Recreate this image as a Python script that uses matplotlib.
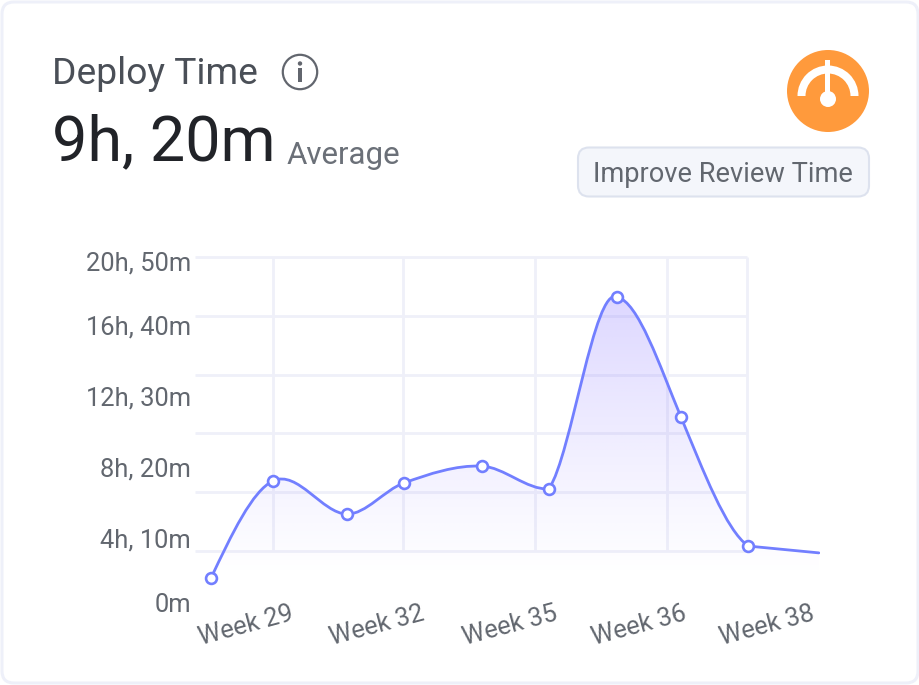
import numpy as np
import matplotlib
matplotlib.use("Agg")
import matplotlib.pyplot as plt
from matplotlib.patches import FancyBboxPatch, Circle, Wedge, PathPatch, Rectangle
from matplotlib.path import Path

plt.rcParams['font.family'] = ['Roboto', 'DejaVu Sans']

# ---- data (minutes over a week-position scale) ----
sample_x = [0.00, 0.94, 2.06, 2.92, 4.10, 5.12, 6.15, 7.12, 8.14, 9.21]
minutes = [-115, 298, 157, 289, 361, 264, 1080, 570, 21, -8]
marked = 9  # the last sample carries no marker
week_labels = ['Week 29', 'Week 32', 'Week 35', 'Week 36', 'Week 38']
week_label_x = [0.53, 2.51, 4.53, 6.48, 8.43]
week_grid_x = [0.94, 2.91, 4.91, 6.91, 8.12]
value_labels = ['0m', '4h, 10m', '8h, 20m', '12h, 30m', '16h, 40m', '20h, 50m']
value_label_y = [-217, 55, 357, 658, 960, 1233]
value_grid = [0, 250, 500, 750, 1000, 1250]

LINE = '#727FFF'
GRID = '#EFF0F9'
W, H = 920, 685

fig = plt.figure(figsize=(W / 100, H / 100), dpi=100, facecolor='white')

# ---- card furniture, in pixel coordinates ----
bg = fig.add_axes([0, 0, 1, 1], zorder=0)
bg.set_xlim(0, W); bg.set_ylim(H, 0); bg.axis('off')
bg.add_patch(FancyBboxPatch((2, 2), W - 4, H - 4, boxstyle='round,pad=0,rounding_size=12',
                            fc='white', ec='#EEF0F9', lw=2.2))
bg.text(52, 84, 'Deploy Time', fontsize=26.8, color='#4A4F57', va='baseline')
bg.text(52, 160, '9h, 20m', fontsize=45.3, color='#212328', va='baseline')
bg.text(287, 164, 'Average', fontsize=22.5, color='#6B7078', va='baseline')

bg.add_patch(Circle((300, 72), 17.2, fc='none', ec='#62666E', lw=1.6))
bg.add_patch(Circle((300, 63.5), 2.2, fc='#62666E', ec='none'))
bg.add_patch(Rectangle((298, 68), 4, 14, fc='#62666E', ec='none'))

bg.add_patch(Circle((828, 91), 41, fc='#FF9A3C', ec='none'))
bg.add_patch(Wedge((828, 96), 30.5, 180, 360, width=8, fc='white', ec='none'))
bg.add_patch(Rectangle((825.5, 60), 5, 38, fc='white', ec='none'))
bg.add_patch(Circle((828, 99), 8, fc='white', ec='none'))

bg.add_patch(FancyBboxPatch((578, 147.5), 291, 49, boxstyle='round,pad=0,rounding_size=11',
                            fc='#F4F6FB', ec='#DDE2EE', lw=1.5))
bg.text(722.5, 174, 'Improve Review Time', fontsize=19.6, color='#62676F', ha='center', va='center')

# ---- chart ----
px_left, px_right, px_top, px_bottom = 195, 820, 250, 612
ax = fig.add_axes([px_left / W, 1 - px_bottom / H, (px_right - px_left) / W, (px_bottom - px_top) / H],
                  zorder=1)
ax.patch.set_alpha(0)
for s in ax.spines.values():
    s.set_visible(False)
x_scale = 66.0
val_per_px = 250 / 58.8
xlim = ((px_left - 211) / x_scale, (px_right - 211) / x_scale)
ylim = ((551 - px_bottom) * val_per_px, (551 - px_top) * val_per_px)

ax.hlines(value_grid, xlim[0], week_grid_x[-1], color=GRID, lw=2.0, zorder=1)
ax.vlines(week_grid_x, value_grid[0], value_grid[-1], color=GRID, lw=2.0, zorder=1)

# smooth curve as Bezier segments through the samples
xs = np.array(sample_x, float); ys = np.array(minutes, float)
n = len(xs)
m_out = np.zeros(n); m_in = np.zeros(n)
for i in range(n):
    a, b = max(i - 1, 0), min(i + 1, n - 1)
    m_out[i] = m_in[i] = (ys[b] - ys[a]) / (xs[b] - xs[a])
m_out[0] = m_in[0] = 1.35 * (ys[1] - ys[0]) / (xs[1] - xs[0])
to_slope = val_per_px * x_scale          # screen slope to data slope (downward positive on screen)
m_in[5], m_out[5] = 0.05 * to_slope, 1.5 * to_slope
m_in[6], m_out[6] = -0.5 * to_slope, -0.2 * to_slope
m_in[7] = m_out[7] = -2.4 * to_slope
m_in[8] = -0.7 * to_slope
seg = (ys[-1] - ys[-2]) / (xs[-1] - xs[-2])
m_out[-2] = m_in[-1] = m_out[-1] = seg
verts = [(xs[0], ys[0])]; codes = [Path.MOVETO]
for i in range(n - 1):
    h = xs[i + 1] - xs[i]
    verts += [(xs[i] + h / 3, ys[i] + m_out[i] * h / 3),
              (xs[i + 1] - h / 3, ys[i + 1] - m_in[i + 1] * h / 3),
              (xs[i + 1], ys[i + 1])]
    codes += [Path.CURVE4] * 3

fill_floor = (551 - 576) * val_per_px
peak = (551 - 290) * val_per_px
fill_verts = verts + [(xs[-1], fill_floor), (xs[0], fill_floor), (xs[0], ys[0]), (xs[0], ys[0])]
fill_codes = codes + [Path.LINETO, Path.LINETO, Path.LINETO, Path.CLOSEPOLY]
clip = PathPatch(Path(fill_verts, fill_codes), fc='none', ec='none', transform=ax.transData)
ax.add_patch(clip)
grad = np.zeros((256, 2, 4))
grad[..., :3] = matplotlib.colors.to_rgb('#8C78FF')
grad[..., 3] = 0.30 * np.linspace(1, 0, 256)[:, None] ** 1.1
im = ax.imshow(grad, extent=(xs[0], xs[-1], fill_floor, peak), origin='upper',
               aspect='auto', zorder=2, interpolation='bilinear')
im.set_clip_path(clip)

ax.add_patch(PathPatch(Path(verts, codes), fc='none', ec=LINE, lw=2.0, zorder=3, capstyle='round'))
ax.plot(xs[:marked], ys[:marked], ls='none', marker='o', ms=7.8, mfc='white', mec=LINE, mew=1.9,
        zorder=4, clip_on=False)

ax.set_xlim(*xlim); ax.set_ylim(*ylim)
ax.set_xticks(week_label_x, week_labels, rotation=15, ha='center', fontsize=18.3, color='#62676F')
ax.set_yticks(value_label_y, value_labels, fontsize=18.4, color='#62676F')
ax.tick_params(axis='both', length=0)
ax.tick_params(axis='y', pad=3.0)
ax.tick_params(axis='x', pad=-7.5)

fig.savefig('out.png', dpi=100)
